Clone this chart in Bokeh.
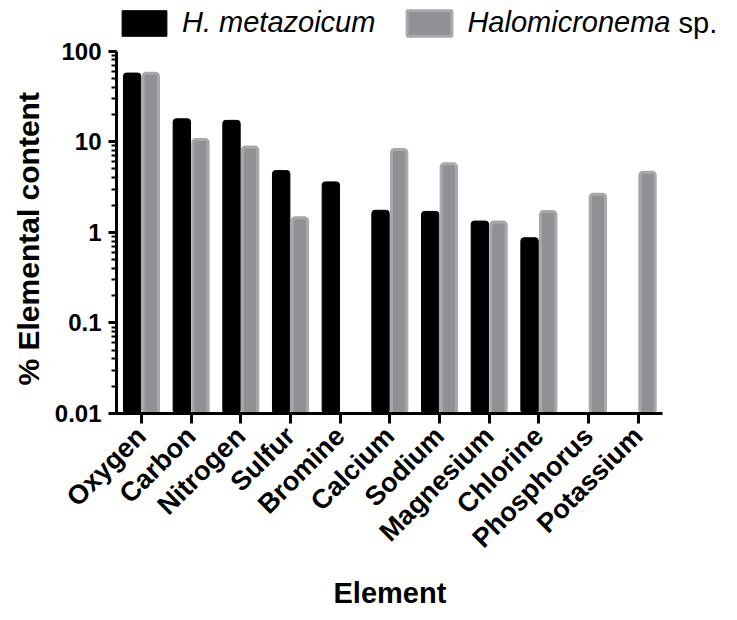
from bokeh.plotting import figure
from bokeh.models import (ColumnDataSource, Range1d, Legend, LegendItem,
                          LogTicker, FixedTicker, Label, Title)
from bokeh.transform import dodge
from bokeh.embed import file_html
from bokeh.resources import INLINE

elements = ["Oxygen", "Carbon", "Nitrogen", "Sulfur", "Bromine", "Calcium",
            "Sodium", "Magnesium", "Chlorine", "Phosphorus", "Potassium"]
h_metazoicum = [57.2, 17.9, 17.2, 4.8, 3.6, 1.75, 1.70, 1.33, 0.87, None, None]
halomicronema = [57.0, 10.6, 8.75, 1.45, None, 8.2, 5.7, 1.3, 1.7, 2.63, 4.6]
series_names = ["H. metazoicum", "Halomicronema"]
series_suffix = "sp."
y_ticks = [0.01, 0.1, 1, 10, 100]
y_tick_labels = ["0.01", "0.1", "1", "10", "100"]
x_title = "Element"
y_title = "% Elemental content"

BASE = 0.01
FONT = "Liberation Sans"
N = len(elements)
UNIT_PX = 49.64            # width of one category slot
X_MAX = 12.3               # extra room on the right for the legend text
FW = int(round(UNIT_PX * X_MAX))
DECADE_PX = 90.6
FH = 413
Y_MAX = 10 ** (2 + (FH - 4 * DECADE_PX) / DECADE_PX)
BL, BR, BT, BB = 116, 2, 0, 205

pos = [i + 0.5 for i in range(N)]
src_a = ColumnDataSource(dict(
    x=[q for q, v in zip(pos, h_metazoicum) if v is not None],
    top=[v for v in h_metazoicum if v is not None]))
src_b = ColumnDataSource(dict(
    x=[q for q, v in zip(pos, halomicronema) if v is not None],
    top=[v for v in halomicronema if v is not None]))

p = figure(frame_width=FW, frame_height=FH, x_range=Range1d(0, X_MAX),
           y_range=Range1d(0.01, Y_MAX), y_axis_type="log",
           output_backend="svg", toolbar_location=None,
           min_border_left=BL, min_border_right=BR, min_border_top=BT,
           min_border_bottom=BB)

r1 = p.vbar(x=dodge("x", -0.185), top="top", bottom=BASE,
            width=0.35, source=src_a, fill_color="#000000", line_color="#000000",
            line_width=1, border_radius=3)
r2 = p.vbar(x=dodge("x", 0.19), top="top", bottom=BASE,
            width=0.31, source=src_b, fill_color="#919195", line_color="#a9a9ab",
            line_width=3, border_radius=3)

p.xgrid.grid_line_color = None
p.ygrid.grid_line_color = None
p.outline_line_color = None
p.background_fill_color = "white"

# y axis
ya = p.yaxis[0]
ya.ticker = LogTicker(desired_num_ticks=6, num_minor_ticks=10)
ya.bounds = (y_ticks[0], y_ticks[-1])
ya.major_label_overrides = {t: l for t, l in zip(y_ticks, y_tick_labels)}
ya.major_label_text_font = FONT
ya.major_label_text_font_size = "24px"
ya.major_label_text_font_style = "bold"
ya.major_label_text_color = "black"
ya.major_label_standoff = 7
ya.axis_line_width = 3
ya.axis_line_color = "black"
ya.major_tick_line_width = 3
ya.major_tick_line_color = "black"
ya.major_tick_out = 8
ya.major_tick_in = 0
ya.minor_tick_line_width = 2
ya.minor_tick_line_color = "black"
ya.minor_tick_out = 5
ya.minor_tick_in = 0

# x axis (categories placed at slot centres)
xa = p.xaxis[0]
xa.ticker = FixedTicker(ticks=pos, minor_ticks=[])
xa.bounds = (0, N)
xa.major_label_overrides = {q: e for q, e in zip(pos, elements)}
xa.major_label_orientation = 0.785398
xa.major_label_text_font = FONT
xa.major_label_text_font_size = "27px"
xa.major_label_text_font_style = "bold"
xa.major_label_text_color = "black"
xa.major_label_standoff = 8
xa.axis_line_width = 3
xa.axis_line_color = "black"
xa.major_tick_line_width = 3
xa.major_tick_line_color = "black"
xa.major_tick_out = 10
xa.major_tick_in = 0

# axis titles, placed as side-panel titles so they line up with the data area
p.add_layout(Title(text=y_title, align="left", offset=28, standoff=14,
                   text_font=FONT, text_font_size="30px", text_font_style="bold",
                   text_color="black"), "left")
p.add_layout(Title(text=x_title, align="left", offset=217, standoff=14,
                   vertical_align="bottom",
                   text_font=FONT, text_font_size="29px", text_font_style="bold",
                   text_color="black"), "below")

legend = Legend(items=[LegendItem(label=series_names[0], renderers=[r1]),
                       LegendItem(label=series_names[1], renderers=[r2])],
                orientation="horizontal", location=(0, FH - 39),
                label_text_font=FONT, label_text_font_size="29px",
                label_text_font_style="italic", label_text_color="black",
                glyph_width=56, glyph_height=32, label_standoff=10,
                spacing=26, padding=0, margin=0,
                border_line_color=None, background_fill_alpha=0)
p.add_layout(legend, "center")

sp = Label(x=562, y=FH - 22.5, x_units="screen", y_units="screen",
           text=series_suffix, text_font=FONT, text_font_size="29px",
           text_color="black", text_baseline="middle", text_align="left")
p.add_layout(sp)

open("out.html", "w").write(file_html(p, INLINE))
